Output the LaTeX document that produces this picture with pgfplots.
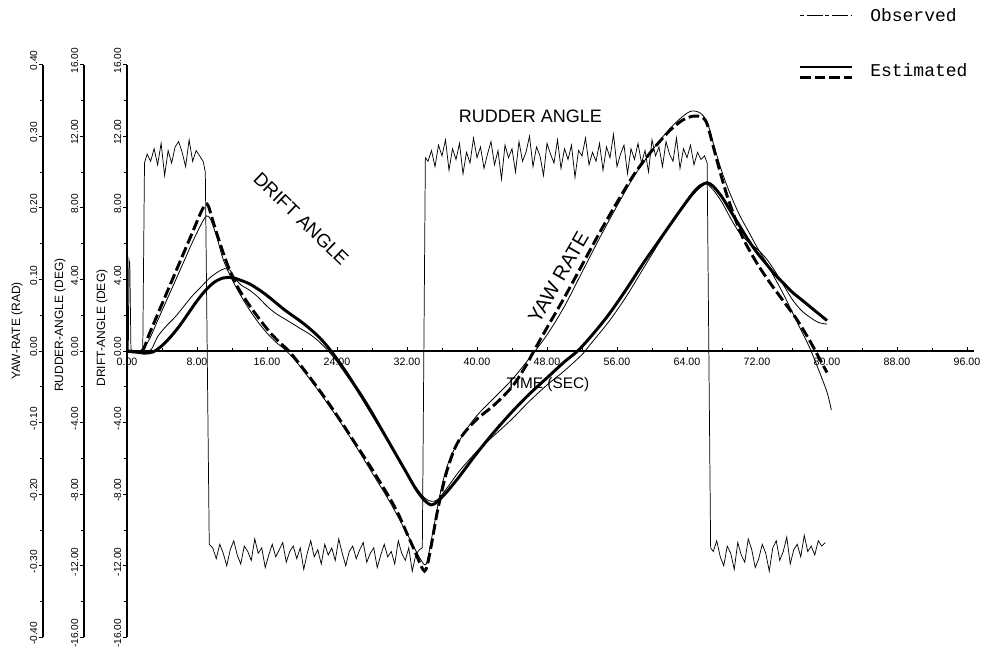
\documentclass[border=0pt]{standalone}
\usepackage{pgfplots}
\pgfplotsset{compat=1.18}
\usepackage{fontspec}
\setmainfont{Liberation Sans}
\newfontfamily\mono{Liberation Mono}
\begin{document}
\begin{tikzpicture}
\useasboundingbox (-95.25pt,-222.75pt) rectangle (654pt,263.25pt);
\pgfplotsset{
  sideaxis/.style={
    anchor=south west, x=1pt, xmin=0, xmax=1,
    hide x axis, axis y line=left,
    axis line style={line width=0.8pt,-},
    tick style={line width=0.6pt,black},
    tick align=outside, major tick length=3.2pt, minor tick length=2.6pt,
    yticklabel style={yshift=3pt, rotate=90, anchor=south, inner sep=1pt, font=\fontsize{7.6}{9}\selectfont},
    /pgf/number format/.cd, fixed, fixed zerofill, precision=2, assume math mode=true,
  }
}
% yaw rate axis
\begin{axis}[sideaxis, at={(-63pt,-214.8pt)}, y=537pt, ymin=-0.4, ymax=0.4,
  ytick={-0.4,-0.3,-0.2,-0.1,0,0.1,0.2,0.3,0.4},
  minor ytick={-0.35,-0.25,-0.15,-0.05,0.05,0.15,0.25,0.35}]
\end{axis}
% rudder angle axis
\begin{axis}[sideaxis, at={(-32.25pt,-214.8pt)}, y=13.425pt, ymin=-16, ymax=16,
  ytick={-16,-12,...,16}, minor ytick={-14,-10,...,14}]
\end{axis}
% main axis (drift angle)
\begin{axis}[anchor=south west, at={(0pt,-214.8pt)},
  x=6.5625pt, y=13.425pt,
  xmin=0, xmax=96.8, ymin=-16, ymax=16,
  axis x line=middle, axis y line=left,
  axis line style={line width=0.8pt,-},
  tick style={line width=0.6pt,black},
  hide obscured x ticks=false, hide obscured y ticks=false,
  xtick={0,8,...,96}, minor xtick={4,12,...,92},
  ytick={-16,-12,...,16}, minor ytick={-14,-10,...,14},
  xtick align=inside, ytick align=outside,
  major tick length=3.2pt, minor tick length=2.6pt,
  yticklabel style={yshift=3pt, rotate=90, anchor=south, inner sep=1pt, font=\fontsize{7.6}{9}\selectfont},
  xticklabel style={font=\fontsize{8}{9}\selectfont, inner sep=1pt, yshift=-4pt},
  /pgf/number format/.cd, fixed, fixed zerofill, precision=2, assume math mode=true,
  clip=false]
% rudder angle observed
\addplot[black, line width=0.55pt] coordinates {
(0,0)(0.15,0)(0.22,5.1)(0.32,4.9)(0.45,0.1)(0.7,0)(1.8,0)(2.0,10.5)
(2.3,11.0)(2.7,10.6)(3.1,11.3)(3.5,10.4)(3.9,11.6)(4.3,9.8)(4.7,11.2)(5.1,10.5)(5.5,11.4)(5.9,11.7)(6.3,11.1)(6.7,10.3)(7.1,11.8)(7.5,10.6)(7.9,11.2)(8.3,10.9)(8.7,10.6)
(8.95,10.0)(9.4,-10.8)
(9.8,-11.0)(10.2,-11.6)(10.6,-10.8)(11.0,-11.3)(11.4,-12.0)(11.8,-11.1)(12.2,-10.6)(12.6,-11.4)(13.0,-11.9)(13.4,-10.9)(13.8,-11.2)(14.2,-11.7)(14.6,-10.5)(15.0,-11.3)(15.4,-11.0)(15.8,-12.1)(16.2,-11.4)(16.6,-10.8)(17.0,-11.5)(17.4,-11.1)
(17.8,-10.7)(18.2,-11.8)(18.6,-11.2)(19.0,-10.9)(19.4,-11.6)(19.8,-11.0)(20.2,-12.2)(20.6,-11.3)(21.0,-10.6)(21.4,-11.5)(21.8,-11.1)(22.2,-11.9)(22.6,-10.8)(23.0,-11.4)(23.4,-11.0)(23.8,-11.7)(24.2,-10.5)(24.6,-11.3)(25.0,-12.0)(25.4,-11.2)
(25.8,-10.9)(26.2,-11.6)(26.6,-11.1)(27.0,-10.7)(27.4,-11.8)(27.8,-11.3)(28.2,-11.0)(28.6,-12.1)(29.0,-11.4)(29.4,-10.8)(29.8,-11.5)(30.2,-11.2)(30.6,-11.9)(31.0,-10.6)(31.4,-11.3)(31.8,-11.7)(32.2,-11.0)(32.6,-12.3)(33.0,-11.4)(33.4,-11.1)
(33.75,-11.0)(34.1,10.8)
(34.4,10.6)(34.8,11.2)(35.2,10.3)(35.6,11.5)(36.0,10.9)(36.4,11.8)(36.8,10.1)(37.2,11.3)(37.6,10.7)(38.0,11.6)(38.4,9.9)(38.8,11.1)(39.2,10.5)(39.6,11.9)(40.0,10.8)(40.4,11.4)(40.8,10.2)(41.2,11.0)(41.6,11.7)(42.0,10.4)
(42.4,11.2)(42.8,9.6)(43.2,11.5)(43.6,10.8)(44.0,11.3)(44.4,10.0)(44.8,11.7)(45.2,10.6)(45.6,11.1)(46.0,12.0)(46.4,10.3)(46.8,11.4)(47.2,10.9)(47.6,9.8)(48.0,11.6)(48.4,11.0)(48.8,10.5)(49.2,11.8)(49.6,10.2)(50.0,11.3)
(50.4,10.7)(50.8,11.5)(51.2,9.7)(51.6,11.2)(52.0,10.9)(52.4,11.9)(52.8,10.4)(53.2,11.1)(53.6,10.6)(54.0,11.6)(54.4,10.1)(54.8,11.4)(55.2,10.8)(55.6,12.1)(56.0,10.3)(56.4,11.0)(56.8,11.5)(57.2,9.9)(57.6,11.3)(58.0,10.7)
(58.4,11.6)(58.8,10.5)(59.2,11.2)(59.6,10.0)(60.0,11.8)(60.4,10.9)(60.8,11.4)(61.2,10.3)(61.6,11.7)(62.0,11.0)(62.4,10.6)(62.8,11.9)(63.2,10.2)(63.6,11.3)(64.0,10.8)(64.4,11.5)(64.8,10.4)(65.2,11.1)(65.6,10.7)(66.0,10.9)
(66.3,10.5)(66.7,-11.0)
(67.0,-11.2)(67.4,-10.6)(67.8,-11.5)(68.2,-12.0)(68.6,-10.9)(69.0,-11.3)(69.4,-12.2)(69.8,-10.7)(70.2,-11.4)(70.6,-11.8)(71.0,-10.5)(71.4,-11.1)(71.8,-12.1)(72.2,-11.6)(72.6,-10.8)(73.0,-11.3)(73.4,-12.3)(73.8,-11.0)(74.2,-10.6)(74.6,-11.7)
(75.0,-11.2)(75.4,-10.4)(75.8,-11.9)(76.2,-11.1)(76.6,-10.8)(77.0,-11.5)(77.4,-10.3)(77.8,-11.2)(78.2,-10.9)(78.6,-11.4)(79.0,-10.6)(79.4,-10.9)(79.8,-10.7)
};
% drift angle observed
\addplot[black, line width=0.6pt, smooth] coordinates {
(0,0)(1,-0.05)(2,-0.1)(2.8,0.1)(3.5,0.8)(4.5,1.4)(5.5,1.9)(6.5,2.5)(7.5,3.1)(8.5,3.6)(9.5,4.1)(10.5,4.45)(11.2,4.6)(11.8,4.5)(12.3,4.1)(13,3.7)(14,3.4)(15,3.0)(16,2.5)(17,2.1)(18,1.8)(19,1.5)(20,1.2)(21,0.9)(22,0.5)(23,0.0)(24,-0.6)(25,-1.3)(26,-2.0)(27,-2.8)(28,-3.6)(29,-4.4)(30,-5.2)(31,-6.0)(32,-6.8)(33,-7.6)(34,-8.2)(34.8,-8.4)(35.5,-8.3)(36.5,-7.7)(38,-6.7)(40,-5.6)(42,-4.7)(44,-3.8)(46,-2.8)(48,-1.9)(50,-1.1)(52,-0.2)(53,0.4)(55,1.6)(57,3.0)(59,4.6)(61,6.2)(63,7.7)(64.5,8.8)(65.5,9.3)(66.2,9.35)(67,9.0)(68,8.3)(69,7.4)(70,6.6)(71,6.1)(72,5.7)(73,5.2)(74,4.5)(75,3.7)(76,2.9)(77,2.3)(78,1.9)(79,1.6)(80,1.5)
};
% yaw rate observed
\addplot[black, line width=0.6pt, smooth] coordinates {
(0,0)(1.5,0)(2.5,0.6)(3.5,1.7)(4.5,2.8)(5.5,3.9)(6.5,5.0)(7.5,6.1)(8.5,7.1)(9.1,7.55)(9.6,7.3)(10.3,6.3)(11,5.1)(12,4.0)(13,3.1)(14,2.3)(15,1.6)(16,1.0)(17,0.5)(18,0.1)(19,-0.4)(20,-1.0)(22,-2.3)(24,-3.7)(26,-5.2)(28,-6.8)(30,-8.4)(32,-10.2)(33.5,-11.6)(34.2,-11.9)(34.8,-10.5)(36,-7.5)(37,-5.9)(38.5,-4.6)(40,-3.6)(42,-2.6)(44,-1.6)(46,-0.4)(48,0.9)(50,2.5)(52,4.4)(54,6.3)(56,8.1)(58,9.8)(60,11.2)(62,12.4)(63.5,13.1)(64.5,13.4)(65.5,13.3)(66.3,12.8)(67,11.6)(68,10.0)(69,8.7)(70,7.6)(71,6.7)(72,5.8)(73,5.0)(74,4.1)(75,3.2)(76,2.2)(77,1.2)(78,0.2)(79,-1.0)(80,-2.3)(80.5,-3.3)
};
% drift angle estimated
\addplot[black, line width=2.2pt, smooth] coordinates {
(0,0)(1,-0.05)(2,-0.12)(3,-0.05)(4,0.3)(5,0.8)(6,1.4)(7,2.1)(8,2.8)(9,3.4)(10,3.85)(11,4.08)(12,4.1)(13,3.95)(14,3.75)(15,3.45)(16,3.1)(17,2.7)(18,2.3)(19,1.95)(20,1.6)(21,1.2)(22,0.75)(23,0.2)(24,-0.45)(25,-1.15)(26,-1.9)(27,-2.65)(28,-3.45)(29,-4.3)(30,-5.15)(31,-6.0)(32,-6.85)(33,-7.7)(34,-8.35)(34.8,-8.6)(35.5,-8.4)(36.5,-7.9)(38,-7.0)(40,-5.7)(42,-4.5)(44,-3.4)(46,-2.4)(48,-1.5)(50,-0.6)(51.5,0)(53,0.8)(55,2.0)(57,3.4)(59,4.9)(61,6.3)(63,7.7)(64.5,8.7)(65.5,9.2)(66.3,9.4)(67,9.2)(68,8.6)(69,7.8)(70,7.0)(71,6.2)(72,5.5)(73,4.9)(74,4.3)(75,3.8)(76,3.3)(77,2.9)(78,2.5)(79,2.1)(80,1.7)
};
% yaw rate estimated
\addplot[black, line width=2.2pt, dash pattern=on 8pt off 3pt, smooth] coordinates {
(0,0)(1.7,0)(2.5,0.9)(3.5,2.05)(4.5,3.2)(5.5,4.35)(6.5,5.5)(7.5,6.65)(8.5,7.8)(9.0,8.2)(9.3,8.1)(9.8,7.3)(10.5,6.2)(11.5,4.8)(12.5,3.7)(13.5,2.9)(14.5,2.2)(15.5,1.55)(16.5,0.95)(17.5,0.45)(18.5,0.0)(20,-0.9)(22,-2.2)(24,-3.6)(26,-5.1)(28,-6.6)(30,-8.2)(31,-9.1)(32,-10.2)(33,-11.3)(33.6,-12.0)(34.0,-12.3)(34.3,-12.0)(34.8,-10.8)(35.5,-8.9)(36.5,-6.8)(37.5,-5.4)(38.5,-4.6)(40,-3.8)(42,-3.0)(44,-2.0)(45.5,-0.9)(46.5,0)(48,1.3)(50,3.0)(52,4.8)(54,6.6)(56,8.3)(58,9.9)(60,11.2)(62,12.3)(63.5,12.9)(64.5,13.1)(65.5,13.1)(66.2,12.8)(66.8,11.8)(67.5,10.5)(68.5,8.8)(69.5,7.4)(70.5,6.2)(72,4.9)(73.5,3.8)(75,2.8)(76.5,1.8)(78,0.6)(79,-0.3)(80,-1.2)
};
\node[font=\fontsize{13.5}{15}\selectfont] at (axis cs:46.1,13.1) {RUDDER ANGLE};
\node[font=\fontsize{14}{15}\selectfont, rotate=-44] at (axis cs:19.9,7.4) {DRIFT ANGLE};
\node[font=\fontsize{15}{16}\selectfont, rotate=60] at (axis cs:49.3,4.1) {YAW RATE};
\node[font=\fontsize{11.5}{12}\selectfont] at (axis cs:48.1,-1.9) {TIME (SEC)};
\end{axis}
% axis titles
\node[rotate=90, font=\fontsize{9}{10}\selectfont] at (-82.5pt,15pt) {YAW-RATE (RAD)};
\node[rotate=90, font=\fontsize{9}{10}\selectfont] at (-50.25pt,19.5pt) {RUDDER-ANGLE (DEG)};
\node[rotate=90, font=\fontsize{9}{10}\selectfont] at (-18.75pt,17.25pt) {DRIFT-ANGLE (DEG)};
% legend
\draw[line width=0.6pt, dash pattern=on 3pt off 2pt on 12pt off 2pt] (504.75pt,252pt) -- (543.75pt,252pt);
\node[anchor=west, font=\mono\fontsize{13.5}{14}\selectfont, inner sep=0pt] at (557.25pt,252pt) {Observed};
\draw[line width=2.2pt] (504.75pt,213pt) -- (543.75pt,213pt);
\draw[line width=2.2pt, dash pattern=on 8pt off 3pt] (504.75pt,205pt) -- (543.75pt,205pt);
\node[anchor=west, font=\mono\fontsize{13.5}{14}\selectfont, inner sep=0pt] at (557.25pt,210.75pt) {Estimated};
\end{tikzpicture}
\end{document}
